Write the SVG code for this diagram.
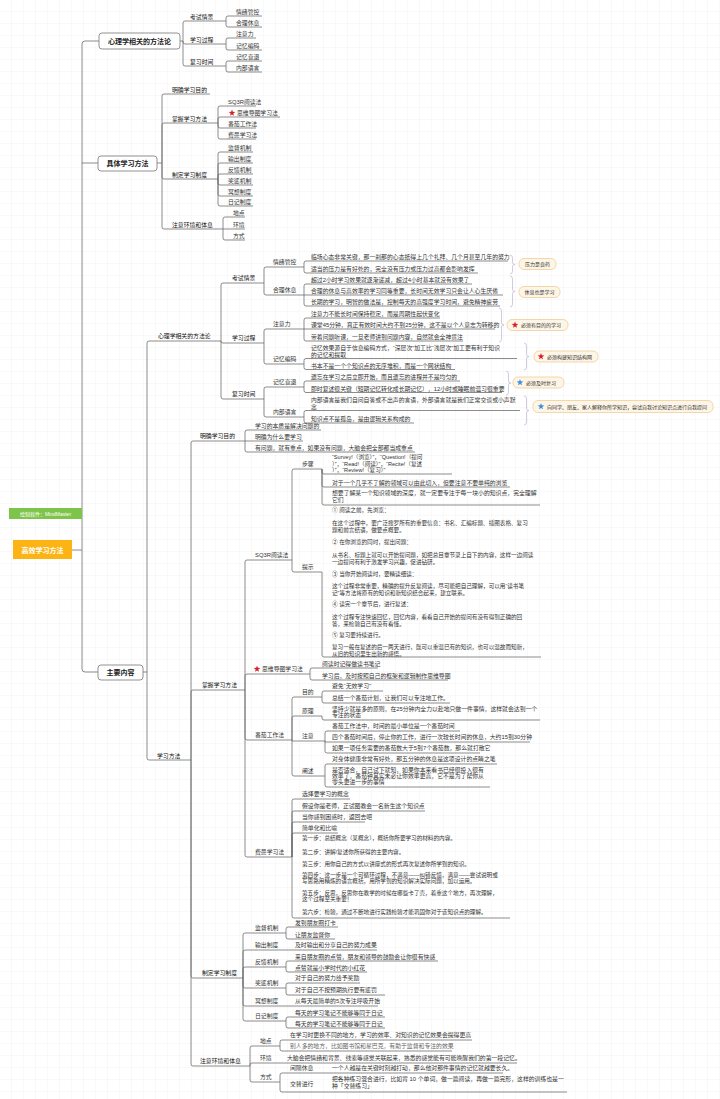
<svg xmlns="http://www.w3.org/2000/svg" width="720" height="1099" viewBox="0 0 720 1099">
<defs>
<pattern id="grid" width="12" height="12" patternUnits="userSpaceOnUse"><path d="M12,0 V12 H0" fill="none" stroke="#ececec" stroke-width="0.6"/></pattern>
<path id="star" d="M0,-3.5 L0.82,-1.13 L3.33,-1.08 L1.33,0.43 L2.06,2.83 L0,1.4 L-2.06,2.83 L-1.33,0.43 L-3.33,-1.08 L-0.82,-1.13 Z"/>
<style>
text{font-family:"Liberation Sans","Noto Sans CJK SC",sans-serif;fill:#333;font-size:5.85px}
.s{fill:#111}
.blk{font-size:5.6px}
.bx{font-size:7px;font-weight:700;text-anchor:middle;fill:#222}
.box{fill:#fff;stroke:#777;stroke-width:0.8}
.ln{fill:none;stroke:#666;stroke-width:0.75}
.br{fill:none;stroke:#c9bcd6;stroke-width:0.8}
.tag{fill:#fdf5e6;stroke:#f0cd98;stroke-width:0.8}
.tt{font-size:5px}
.red{fill:#d5202c}
.blue{fill:#3d8fe0}
</style>
</defs>
<rect width="720" height="1099" fill="#fff"/>
<rect width="720" height="1099" fill="url(#grid)"/>

<g id="connectors">
<path class="ln" d="M72,550 H82 M99,41 H85 Q82,41 82,44 V669 Q82,672 85,672 H98 M82,163 H98"/>
<path class="ln" d="M180,41 H183 M183,41 V23 Q183,21 185,21 H226 M183,41 V42 Q183,44 185,44 H226 M183,41 V64 Q183,66 185,66 H226"/>
<path class="ln" d="M226,21 V18 Q226,16 228,16 H262 M226,21 V25 Q226,27 228,27 H262 M226,44 V40 Q226,38 228,38 H256 M226,44 V48 Q226,50 228,50 H262 M226,66 V63 Q226,61 228,61 H262 M226,66 V70 Q226,72 228,72 H262"/>
<path class="ln" d="M157,163 H162 M162,163 V96 Q162,94 164,94 H210 M162,163 V125 Q162,123 164,123 H218 M162,163 V177 Q162,179 164,179 H218 M162,163 V227 Q162,229 164,229 H223"/>
<path class="ln" d="M218,123 V108 Q218,106 220,106 H256 M218,123 V119 Q218,117 220,117 H280 M218,123 V126 Q218,128 220,128 H256 M218,123 V137 Q218,139 220,139 H256"/>
<path class="ln" d="M218,179 V154 Q218,152 220,152 H253 M218,179 V165 Q218,163 220,163 H253 M218,179 V176 Q218,174 220,174 H253 M218,179 V183 Q218,185 220,185 H253 M218,179 V194 Q218,196 220,196 H253 M218,179 V204 Q218,206 220,206 H253"/>
<path class="ln" d="M223,229 V219 Q223,217 225,217 H245 M223,229 H245 M223,229 V238 Q223,240 225,240 H245"/>
<path class="ln" d="M143,672 H147 M147,672 V343 Q147,341 149,341 H221 M147,672 V758 Q147,760 149,760 H191"/>
<path class="ln" d="M221,341 V285 Q221,283 223,283 H264 M221,341 Q221,343 223,343 H264 M221,341 V397 Q221,399 223,399 H264"/>
<path class="ln" d="M264,283 V269 Q264,267 266,267 H304 M264,283 V293 Q264,295 266,295 H304 M264,343 V331 Q264,329 266,329 H304 M264,343 V362 Q264,364 266,364 H304 M264,399 V389 Q264,387 266,387 H304 M264,399 V415 Q264,417 266,417 H304"/>
<path class="ln" d="M304,267 V263 Q304,261 306,261 H508 M304,267 V271 Q304,273 306,273 H478 M304,295 V286 Q304,284 306,284 H472 M304,295 H503 M304,295 V304 Q304,306 306,306 H500 M304,329 V320 Q304,318 306,318 H440 M304,329 H495 M304,329 V339 Q304,341 306,341 H463 M304,364 V360.5 Q304,358.5 306,358.5 H517 M304,364 V367.5 Q304,369.5 306,369.5 H455 M304,387 V383 Q304,381 306,381 H460 M304,387 V390.5 Q304,392.5 306,392.5 H502 M304,417 V412.5 Q304,410.5 306,410.5 H520 M304,417 V421 Q304,423 306,423 H414"/>
<path class="ln" d="M191,760 V443 Q191,441 193,441 H245 M191,760 V692 Q191,690 193,690 H245 M191,760 V976 Q191,978 193,978 H243 M191,760 V1064 Q191,1066 193,1066 H250"/>
<path class="ln" d="M245,441 V432 Q245,430 247,430 H321 M245,441 H303 M245,441 V450 Q245,452 247,452 H415"/>
<path class="ln" d="M245,690 V562 Q245,560 247,560 H292 M245,690 V676 Q245,674 247,674 H310 M245,690 V738 Q245,740 247,740 H292 M245,690 V855 Q245,857 247,857 H292"/>
<path class="ln" d="M292,560 V471 Q292,469 294,469 H322 M292,560 V570 Q292,572 294,572 H322 M322,469 V472 Q322,474 324,474 H452 M322,469 V485 Q322,487 324,487 H510 M322,469 V503 Q322,505 324,505 H540 M322,572 V655 Q322,657 324,657 H541"/>
<path class="ln" d="M310,674 V670 Q310,668 312,668 H378 M310,674 V678 Q310,680 312,680 H448"/>
<path class="ln" d="M292,740 V699 Q292,697 294,697 H322 M292,740 V718 Q292,716 294,716 H322 M292,740 V741 H325 M292,740 V774 Q292,776 294,776 H325"/>
<path class="ln" d="M322,697 V693 Q322,691 324,691 H383 M322,697 V701 Q322,703 324,703 H450 M322,716 V718 Q322,720 324,720 H540 M325,741 V733 Q325,731 327,731 H460 M325,741 V742 H530 M325,741 V751 Q325,753 327,753 H480 M325,776 V766 Q325,764 327,764 H497 M325,776 V785 Q325,787 327,787 H490"/>
<path class="ln" d="M292,857 V801 Q292,799 294,799 H350 M292,857 V813 Q292,811 294,811 H425 M292,857 V824 Q292,822 294,822 H365 M292,857 V835 Q292,833 294,833 H338 M292,857 V916 Q292,918 294,918 H510"/>
<path class="ln" d="M243,978 V935 Q243,933 245,933 H286 M243,978 V952 Q243,950 245,950 H377 M243,978 V969 Q243,967 245,967 H286 M243,978 V986 Q243,988 245,988 H286 M243,978 V1004 Q243,1006 245,1006 H378 M243,978 V1019 Q243,1021 245,1021 H286"/>
<path class="ln" d="M286,933 V929 Q286,927 288,927 H338 M286,933 V937 Q286,939 288,939 H335 M286,967 V963 Q286,961 288,961 H438 M286,967 V970 Q286,972 288,972 H367 M286,988 V985 Q286,983 288,983 H360 M286,988 V993 Q286,995 288,995 H385 M286,1021 V1019 Q286,1017 288,1017 H385 M286,1021 V1026 Q286,1028 288,1028 H385"/>
<path class="ln" d="M250,1066 V1048 Q250,1046 252,1046 H280 M250,1066 V1065 Q250,1063 252,1063 H517 M250,1066 V1080 Q250,1082 252,1082 H280"/>
<path class="ln" d="M280,1046 V1042 Q280,1040 282,1040 H472 M280,1046 V1049 Q280,1051 282,1051 H452 M280,1082 V1075 Q280,1073 282,1073 H503 M280,1082 V1090 Q280,1092 282,1092 H567"/>
<path class="br" d="M510,255 Q512.5,255 512.5,258 V262.5 Q512.5,264.5 515,264.5 Q512.5,264.5 512.5,266.5 V271 Q512.5,274 510,274"/>
<path class="br" d="M510,276 Q512.5,276 512.5,279 V289.5 Q512.5,291.5 515,291.5 Q512.5,291.5 512.5,293.5 V304 Q512.5,307 510,307"/>
<path class="br" d="M499,308 Q501.5,308 501.5,311 V323 Q501.5,325 504,325 Q501.5,325 501.5,327 V339 Q501.5,342 499,342"/>
<path class="br" d="M524,343 Q526.5,343 526.5,346 V354.5 Q526.5,356.5 529,356.5 Q526.5,356.5 526.5,358.5 V367 Q526.5,370 524,370"/>
<path class="br" d="M506,371 Q508.5,371 508.5,374 V381 Q508.5,383 511,383 Q508.5,383 508.5,385 V392 Q508.5,395 506,395"/>
<path class="br" d="M524,396 Q526.5,396 526.5,399 V408.5 Q526.5,410.5 529,410.5 Q526.5,410.5 526.5,412.5 V422 Q526.5,425 524,425"/>
</g>

<g id="root"><rect x="13" y="540" width="59" height="19" fill="#fbb414"/><text x="42.5" y="552.5" style="font-size:7px;font-weight:700;fill:#fff;text-anchor:middle">高效学习方法</text></g>
<g id="software"><rect x="9" y="508" width="73" height="11" fill="#7fc44a"/><text x="45.5" y="515.5" style="font-size:5px;fill:#fff;text-anchor:middle">绘制软件：MindMaster</text></g>

<g id="n-psy-box"><rect class="box" x="99" y="33" width="81" height="16" rx="3"/><text class="bx" x="139.5" y="43.5">心理学相关的方法论</text></g>
<g id="n-psy-1"><text class="s" x="190" y="19">考试情景</text></g>
<g id="n-psy-2"><text class="s" x="190" y="42">学习过程</text></g>
<g id="n-psy-3"><text class="s" x="190" y="64">复习时间</text></g>
<g id="n-psy-1a"><text x="236" y="14">情绪管控</text></g>
<g id="n-psy-1b"><text x="236" y="25">合理休息</text></g>
<g id="n-psy-2a"><text x="236" y="36">注意力</text></g>
<g id="n-psy-2b"><text x="236" y="48">记忆编码</text></g>
<g id="n-psy-3a"><text x="236" y="59">记忆衰退</text></g>
<g id="n-psy-3b"><text x="236" y="70">内部语言</text></g>

<g id="n-spec-box"><rect class="box" x="98" y="156" width="59" height="15" rx="3"/><text class="bx" x="127.5" y="166">具体学习方法</text></g>
<g id="n-spec-1"><text class="s" x="172" y="92">明确学习目的</text></g>
<g id="n-spec-2"><text class="s" x="172" y="121">掌握学习方法</text></g>
<g id="n-spec-3"><text class="s" x="172" y="177">制定学习制度</text></g>
<g id="n-spec-4"><text class="s" x="172" y="227">注意环境和体息</text></g>
<g id="n-spec-2a"><text x="228" y="104">SQ3R阅读法</text></g>
<g id="n-spec-2b"><use href="#star" class="red" transform="translate(232,113)"/><text x="237" y="115">思维导图学习法</text></g>
<g id="n-spec-2c"><text x="228" y="126">番茄工作法</text></g>
<g id="n-spec-2d"><text x="228" y="137">费曼学习法</text></g>
<g id="n-spec-3a"><text x="228" y="150">监督机制</text></g>
<g id="n-spec-3b"><text x="228" y="161">输出制度</text></g>
<g id="n-spec-3c"><text x="228" y="172">反馈机制</text></g>
<g id="n-spec-3d"><text x="228" y="183">奖惩机制</text></g>
<g id="n-spec-3e"><text x="228" y="194">冥想制度</text></g>
<g id="n-spec-3f"><text x="228" y="204">日记制度</text></g>
<g id="n-spec-4a"><text x="233" y="215">地点</text></g>
<g id="n-spec-4b"><text x="233" y="227">环境</text></g>
<g id="n-spec-4c"><text x="233" y="238">方式</text></g>

<g id="n-main-box"><rect class="box" x="98" y="665" width="45" height="15" rx="3"/><text class="bx" x="120.5" y="675">主要内容</text></g>
<g id="n-m-psy"><text class="s" x="158" y="338">心理学相关的方法论</text></g>
<g id="n-m-psy-1"><text class="s" x="232" y="280">考试情景</text></g>
<g id="n-m-psy-2"><text class="s" x="232" y="340">学习过程</text></g>
<g id="n-m-psy-3"><text class="s" x="232" y="396">复习时间</text></g>
<g id="n-m-psy-1a"><text x="273" y="264">情绪管控</text></g>
<g id="n-m-psy-1b"><text x="273" y="292">合理休息</text></g>
<g id="n-m-psy-2a"><text x="273" y="326">注意力</text></g>
<g id="n-m-psy-2b"><text x="273" y="361">记忆编码</text></g>
<g id="n-m-psy-3a"><text x="273" y="384">记忆衰退</text></g>
<g id="n-m-psy-3b"><text x="273" y="414">内部语言</text></g>
<g id="n-L1"><text x="311" y="259">临场心态非常关键，那一刹那的心态抵得上几个礼拜、几个月甚至几年的努力</text></g>
<g id="n-L2"><text x="311" y="271">适当的压力是有好处的，完全没有压力或压力过高都会影响发挥</text></g>
<g id="n-L3"><text x="311" y="282">超过2小时学习效果就逐渐递减，超过4小时基本就没有效果了</text></g>
<g id="n-L4"><text x="311" y="293">合理的休息与高效率的学习同等重要，长时间无效学习只会让人心生厌倦</text></g>
<g id="n-L5"><text x="311" y="304">长期的学习，明智的做法是，控制每天的高强度学习时间，避免精神疲劳</text></g>
<g id="n-L6"><text x="311" y="316">注意力不能长时间保持稳定，而是周期性起伏变化</text></g>
<g id="n-L7"><text x="311" y="327">课堂45分钟，真正有效时间大约不到25分钟，这不是以个人意志为转移的</text></g>
<g id="n-L8"><text x="311" y="339">带着问题听课，一旦老师讲到问题内容，自然就会全神贯注</text></g>
<g id="n-L9"><text x="311" y="350">记忆效果源自于信息编码方式，“深层次”加工比“浅层次”加工更有利于知识</text><text x="311" y="356.5">的记忆和提取</text></g>
<g id="n-L10"><text x="311" y="367.5">书本不是一个个知识点的无序堆积，而是一个网状结构</text></g>
<g id="n-L11"><text x="311" y="379">遗忘在学习之后立即开始，而且遗忘的进程并不是均匀的</text></g>
<g id="n-L12"><text x="311" y="390.5">即时复述很关键（短期记忆转化成长期记忆），12小时或睡眠前温习很重要</text></g>
<g id="n-L13"><text x="311" y="402">内部语言是我们自问自答或不出声的言语，外部语言就是我们正常交谈或小声默</text><text x="311" y="408.5">念</text></g>
<g id="n-L14"><text x="311" y="421">知识点不是孤岛，是由逻辑关系构成的</text></g>

<g id="tag1"><rect class="tag" x="519" y="258.5" width="37" height="11" rx="5"/><text class="tt" x="537.5" y="266" text-anchor="middle">压力是良药</text></g>
<g id="tag2"><rect class="tag" x="519" y="286.5" width="41" height="11" rx="5"/><text class="tt" x="539.5" y="294" text-anchor="middle">休息也是学习</text></g>
<g id="tag3"><rect class="tag" x="507" y="319.5" width="61" height="11" rx="5"/><use href="#star" class="red" transform="translate(515,325)"/><text class="tt" x="521" y="327">必须有目的的学习</text></g>
<g id="tag4"><rect class="tag" x="534" y="351" width="64" height="11" rx="5"/><use href="#star" class="red" transform="translate(541,356.5)"/><text class="tt" x="547" y="358.5">必须构建知识结构网</text></g>
<g id="tag5"><rect class="tag" x="513" y="377" width="51" height="11" rx="5"/><use href="#star" class="blue" transform="translate(520,382.5)"/><text class="tt" x="526" y="384.5">必须及时复习</text></g>
<g id="tag6"><rect class="tag" x="533" y="400.5" width="180" height="12" rx="5"/><use href="#star" class="blue" transform="translate(541,406.5)"/><text class="tt" x="547" y="408.5">向同学、朋友、家人解释你所学知识，尝试自我讨论知识点进行自我提问</text></g>

<g id="n-m-method"><text class="s" x="157" y="758">学习方法</text></g>
<g id="n-goal"><text class="s" x="200" y="438">明确学习目的</text></g>
<g id="n-goal-a"><text x="255" y="428">学习的本质是解决问题的</text></g>
<g id="n-goal-b"><text x="255" y="439">明确为什么要学习</text></g>
<g id="n-goal-c"><text x="255" y="450">有问题，就有重点，如果没有问题，大脑会把全部都当成重点</text></g>

<g id="n-master"><text class="s" x="202" y="687">掌握学习方法</text></g>
<g id="n-sq3r"><text x="255" y="557">SQ3R阅读法</text></g>
<g id="n-sq3r-steps"><text x="302" y="466">步骤</text></g>
<g id="n-sq3r-tips"><text x="302" y="569">提示</text></g>
<g id="n-sq3r-s1"><text class="blk" x="332" y="459">“Survey!（浏览）”，“Question!（提问</text><text class="blk" x="332" y="465.5">）”，“Read!（阅读）”，“Recite!（复述</text><text class="blk" x="332" y="472">）”，“Review!（复习）”</text></g>
<g id="n-sq3r-s2"><text x="332" y="485">对于一个几乎不了解的领域可以由此切入，但要注意不要单纯的浏览</text></g>
<g id="n-sq3r-s3"><text x="332" y="495">想要了解某一个知识领域的深度，就一定要专注于每一块小的知识点，完全理解</text><text x="332" y="501.5">它们</text></g>
<g id="n-sq3r-t">
<text class="blk" x="332" y="512">① 阅读之前，先浏览：</text>
<text class="blk" x="332" y="525">在这个过程中，要广泛搜罗所有的重要信息：书名、汇编标题、插图表格、复习</text>
<text class="blk" x="332" y="531.5">题和前言结语，做要点概要。</text>
<text class="blk" x="332" y="544">② 在你浏览的同时，提出问题：</text>
<text class="blk" x="332" y="557">从书名、标题上就可以开始提问题，如把总目章节录上自下的内容，这样一边阅读</text>
<text class="blk" x="332" y="563.5">一边提问有利于激发学习兴趣，促进钻研。</text>
<text class="blk" x="332" y="576">③ 当你开始阅读时，要精读细读：</text>
<text class="blk" x="332" y="588">这个过程非常重要，精确的提升反复阅读，尽可能把自己理解，可以用“读书笔</text>
<text class="blk" x="332" y="594.5">记”等方法将原有的知识和新知识结合起来，建立联系。</text>
<text class="blk" x="332" y="606">④ 读完一个章节后，进行复述：</text>
<text class="blk" x="332" y="619">这个过程专注快速回忆，回忆内容，看看自己开始的提问有没有得到正确的回</text>
<text class="blk" x="332" y="625.5">答，来检验自己有没有看懂。</text>
<text class="blk" x="332" y="637">⑤ 复习要持续进行。</text>
<text class="blk" x="332" y="649">复习一般在复述的后一两天进行，既可以重温已有的知识，也可以温故而知新，</text>
<text class="blk" x="332" y="655.5">从旧的知识里生出新的感悟。</text>
</g>
<g id="n-mindmap"><use href="#star" class="red" transform="translate(257,669)"/><text x="262" y="671">思维导图学习法</text></g>
<g id="n-mindmap-a"><text x="322" y="666">阅读时记得做读书笔记</text></g>
<g id="n-mindmap-b"><text x="322" y="678">学习后，及时按照自己的框架和逻辑制作思维导图</text></g>

<g id="n-tomato"><text x="255" y="737">番茄工作法</text></g>
<g id="n-tomato-1"><text x="302" y="694">目的</text></g>
<g id="n-tomato-2"><text x="302" y="713">原理</text></g>
<g id="n-tomato-3"><text x="302" y="738">注意</text></g>
<g id="n-tomato-4"><text x="302" y="773">阐述</text></g>
<g id="n-tomato-1a"><text x="332" y="688">避免“无效学习”</text></g>
<g id="n-tomato-1b"><text x="332" y="700">总结一个番茄计划，让我们可以专注地工作。</text></g>
<g id="n-tomato-2a"><text x="332" y="711">坚持少就是多的原则，在25分钟内全力以赴地只做一件事情，这样就会达到一个</text><text x="332" y="717">专注的状态</text></g>
<g id="n-tomato-3a"><text x="332" y="728">番茄工作法中，时间的最小单位是一个番茄时间</text></g>
<g id="n-tomato-3b"><text x="332" y="739">四个番茄时间后，停止你的工作，进行一次较长时间的休息，大约15到30分钟</text></g>
<g id="n-tomato-3c"><text x="332" y="750">如果一项任务需要的番茄数大于5到7个番茄数，那么就打散它</text></g>
<g id="n-tomato-4a"><text x="332" y="761">对身体健康非常有好处，那五分钟的休息是这项设计的点睛之笔</text></g>
<g id="n-tomato-4b"><text x="332" y="772">是否适合，自己试下就知，如果你本来看书已经很投入很有</text><text x="332" y="778">效率了，番茄钟其实未必让你效率更高，它不是为了帮你从</text><text x="332" y="784">零头更进一步的事情</text></g>

<g id="n-feynman"><text x="255" y="854">费曼学习法</text></g>
<g id="n-feynman-a"><text x="302" y="796">选择要学习的概念</text></g>
<g id="n-feynman-b"><text x="302" y="808">假设你是老师，正试图教会一名新生这个知识点</text></g>
<g id="n-feynman-c"><text x="302" y="819">当你感到困惑时，返回去吧</text></g>
<g id="n-feynman-d"><text x="302" y="830">简单化和比喻</text></g>
<g id="n-feynman-e">
<text class="blk" x="302" y="840">第一步：总结概念（某概念），概括你所要学习的材料的内容。</text>
<text class="blk" x="302" y="853.5">第二步：讲解/复述你所获得的主要内容。</text>
<text class="blk" x="302" y="866">第三步：用你自己的方式以讲座式的形式再次复述你所学到的知识。</text>
<text class="blk" x="302" y="877">第四步：这一步是一个可循环过程，不满意——纠错反馈，满意——尝试说明或</text>
<text class="blk" x="302" y="883">写思路用精炼的语言概括，用所学到的知识解决实际问题，加以运用。</text>
<text class="blk" x="302" y="895">第五步：反思，反思你在教学的时候在哪些卡了壳，着重这个地方，再次理解，</text>
<text class="blk" x="302" y="901">这个过程至关重要！</text>
<text class="blk" x="302" y="914">第六步：检验，通过不断地进行实践检验才能巩固你对于该知识点的理解。</text>
</g>

<g id="n-system"><text class="s" x="202" y="975">制定学习制度</text></g>
<g id="n-sys-1"><text x="255" y="930">监督机制</text></g>
<g id="n-sys-1a"><text x="295" y="925">发到朋友圈打卡</text></g>
<g id="n-sys-1b"><text x="295" y="937">让朋友监督你</text></g>
<g id="n-sys-2"><text x="255" y="947">输出制度</text></g>
<g id="n-sys-2a"><text x="295" y="947">及时输出和分享自己的努力成果</text></g>
<g id="n-sys-3"><text x="255" y="964">反馈机制</text></g>
<g id="n-sys-3a"><text x="295" y="959">来自朋友圈的点赞，朋友和领导的鼓励会让你很有快感</text></g>
<g id="n-sys-3b"><text x="295" y="970">点赞就是小学时代的小红花</text></g>
<g id="n-sys-4"><text x="255" y="985">奖惩机制</text></g>
<g id="n-sys-4a"><text x="295" y="980">对于自己的努力给予奖励</text></g>
<g id="n-sys-4b"><text x="295" y="992">对于自己不按预期执行要有惩罚</text></g>
<g id="n-sys-5"><text x="255" y="1003">冥想制度</text></g>
<g id="n-sys-5a"><text x="295" y="1003">从每天最简单的5次专注呼吸开始</text></g>
<g id="n-sys-6"><text x="255" y="1018">日记制度</text></g>
<g id="n-sys-6a"><text x="295" y="1015">每天的学习笔记不能够等同于日记</text></g>
<g id="n-sys-6b"><text x="295" y="1026">每天的学习笔记不能够等同于日记</text></g>

<g id="n-env"><text class="s" x="200" y="1063">注意环境和体息</text></g>
<g id="n-env-1"><text x="260" y="1043">地点</text></g>
<g id="n-env-1a"><text x="290" y="1037">在学习时更换不同的地方，学习的效率、对知识的记忆效果会提得更高</text></g>
<g id="n-env-1b"><text x="290" y="1048" style="fill:#666">别人多的地方，比如图书馆和星巴克，有助于监督和专注的效果</text></g>
<g id="n-env-2"><text x="260" y="1060">环境</text></g>
<g id="n-env-2a"><text x="287" y="1060">大脑会把情绪和背景、线索等感觉关联起来，熟悉的感觉能有可能唤醒我们的第一段记忆。</text></g>
<g id="n-env-3"><text x="260" y="1079">方式</text></g>
<g id="n-env-3a"><text x="290" y="1070">间隔休息</text></g>
<g id="n-env-3a1"><text x="332" y="1070">一个人越是在关键时刻越打动，那么他对那件事情的记忆就越要长久。</text></g>
<g id="n-env-3b"><text x="290" y="1086">交替进行</text></g>
<g id="n-env-3b1"><text x="332" y="1081">把各种练习混合进行，比如背 10 个单词，做一篇阅读，再做一篇完形，这样的训练也是一</text><text x="332" y="1088">种「交替练习」</text></g>
</svg>
